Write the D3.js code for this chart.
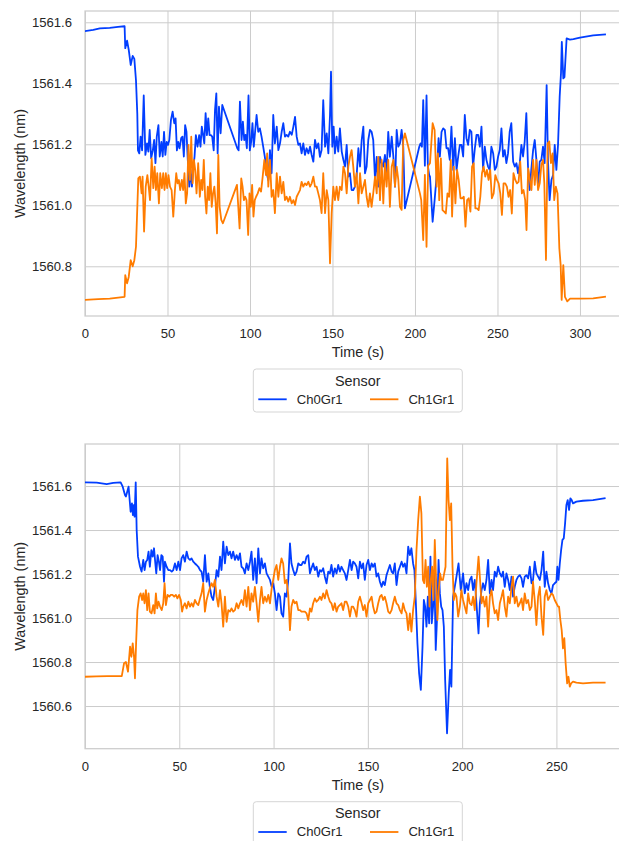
<!DOCTYPE html>
<html>
<head>
<meta charset="utf-8">
<script src="https://cdn.jsdelivr.net/npm/d3@7"></script>
<style>
  html, body { margin: 0; padding: 0; background: #ffffff; }
  svg { display: block; font-family: "Liberation Sans", Arial, sans-serif; }
</style>
</head>
<body>
<svg id="chart" width="619" height="841"></svg>
<script>
// ---------------- DATA ----------------
const seriesNames = ["Ch0Gr1", "Ch1Gr1"];
const legendTitle = "Sensor";
const xLabel = "Time (s)";
const yLabel = "Wavelength (nm)";

const xTicksTop = [0, 50, 100, 150, 200, 250, 300];
const yTicksTop = [1560.8, 1561.0, 1561.2, 1561.4, 1561.6];
const xTicksBottom = [0, 50, 100, 150, 200, 250];
const yTicksBottom = [1560.6, 1560.8, 1561.0, 1561.2, 1561.4, 1561.6];

// [time (s), wavelength (nm)]
const topCh0Gr1 = [
[0,1561.571],[5,1561.575],[9,1561.58],[15,1561.582],[20,1561.585],[24,1561.587],
[24.4,1561.515],[25.5,1561.54],[26.5,1561.51],[27.7,1561.46],[28.9,1561.49],[29.9,1561.48],[30.9,1561.41],[31.7,1561.30],[32.1,1561.18],[32.9,1561.17],[33.7,1561.225],[34.6,1561.18],[35.6,1561.36],[36.6,1561.165],[37.6,1561.203],[38.4,1561.176],[39.2,1561.247],[40.1,1561.154],[41.1,1561.18],[41.9,1561.214],[42.7,1561.138],[43.5,1561.225],[44.5,1561.263],[45.3,1561.16],[46.3,1561.208],[47.1,1561.16],[47.9,1561.241],[48.7,1561.165],[49.5,1561.208],[50.3,1561.198],[51.1,1561.214],[52.1,1561.28],[53.1,1561.307],[54.1,1561.269],[54.9,1561.285],[55.7,1561.18],[56.5,1561.208],[57.3,1561.187],[58.3,1561.22],[59.1,1561.225],[59.9,1561.16],[60.7,1561.263],[61.5,1561.241],[62.3,1561.149],[63.2,1561.061],[64.0,1561.116],[64.8,1561.061],[65.6,1561.121],[66.4,1561.16],[67.2,1561.23],[68.2,1561.192],[69.2,1561.23],[70.0,1561.192],[70.8,1561.258],[71.6,1561.23],[72.3,1561.203],[73.1,1561.302],[73.9,1561.23],[74.7,1561.285],[75.5,1561.23],[76.3,1561.23],[77.1,1561.225],[78.0,1561.18],[78.8,1561.312],[79.6,1561.367],[80.4,1561.17],[81.2,1561.323],[82.2,1561.236],[83.2,1561.329],
[92.3,1561.187],[93.1,1561.18],[93.9,1561.34],[94.9,1561.214],[95.7,1561.274],[96.5,1561.214],[97.3,1561.231],[98.1,1561.187],[99.1,1561.36],[99.9,1561.18],[100.7,1561.208],[101.5,1561.269],[102.3,1561.192],[103.1,1561.241],[104,1561.296],[105,1561.241],[106,1561.252],[107,1561.225],[108,1561.192],[109,1561.159],[110.1,1561.105],[111.1,1561.083],[112.1,1561.181],[113.1,1561.105],[114.1,1561.296],[115.1,1561.203],[116.2,1561.258],[117.2,1561.181],[118.2,1561.203],[119.2,1561.241],[120.2,1561.269],[121.2,1561.225],[122.2,1561.231],[123.2,1561.225],[124.2,1561.241],[125.3,1561.231],[126.3,1561.258],[127.3,1561.29],[128.3,1561.225],[129.3,1561.198],[130.3,1561.203],[131.3,1561.17],[132.3,1561.203],[133.3,1561.165],[134.3,1561.187],[135.4,1561.17],[136.4,1561.192],[137.4,1561.165],[138.4,1561.143],[139.4,1561.214],[140.4,1561.187],[141.4,1561.203],[142.4,1561.159],[143.4,1561.181],[144.4,1561.345],[145.5,1561.192],[146.5,1561.236],[147.5,1561.17],[148.5,1561.296],[149.1,1561.438],[149.9,1561.192],[150.7,1561.258],[151.5,1561.17],[152.5,1561.225],[153.5,1561.176],[154.5,1561.252],[155.6,1561.176],[156.6,1561.149],[157.6,1561.127],[158.6,1561.198],[159.6,1561.094],[160.6,1561.105],[161.6,1561.05],[162.6,1561.05],[163.6,1561.061],[164.6,1561.094],[165.7,1561.187],[166.7,1561.127],[167.7,1561.214],[168.7,1561.258],[169.7,1561.105],[170.7,1561.127],[171.7,1561.214],[172.7,1561.247],[173.7,1561.241],[174.7,1561.214],[175.8,1561.083],[176.8,1561.159],[177.8,1561.061],[178.8,1561.159],[179.8,1561.138],[180.8,1561.127],[181.8,1561.165],[182.8,1561.105],[183.8,1561.241],[184.8,1561.159],[185.9,1561.225],[186.9,1561.159],[187.9,1561.061],[188.9,1561.247],[189.9,1561.192],[190.9,1561.203],[191.9,1561.247],[192.9,1561.192],[193.9,1560.99],
[202.6,1561.192],[203.4,1561.203],[204.2,1561.192],[205,1561.345],[206,1561.13],[207,1561.36],[207.8,1561.13],[208.6,1561.10],[209.1,1561.094],[210.7,1560.946],[211.9,1561.017],[213.1,1561.094],[214.3,1561.22],[215.1,1561.16],[216.1,1561.241],[217.1,1561.252],[218.1,1561.247],[219.1,1561.187],[220.1,1561.187],[221.1,1561.149],[222.1,1561.258],[223.2,1561.116],[224.2,1561.22],[225.2,1561.116],[226.2,1561.16],[227.2,1561.198],[228.2,1561.198],[229.2,1561.16],[230.2,1561.296],[231.2,1561.22],[232.2,1561.198],[233.2,1561.247],[234.2,1561.241],[235.2,1561.127],[236.3,1561.187],[237.3,1561.231],[238.3,1561.231],[239.3,1561.192],[240.3,1561.258],[241.3,1561.116],[242.3,1561.192],[243.3,1561.149],[244.3,1561.127],[245.3,1561.116],[246.3,1561.192],[247.4,1561.17],[248.4,1561.116],[249.4,1561.127],[250.4,1561.16],[251.4,1561.181],[252.4,1561.252],[253.4,1561.16],[254.4,1561.181],[255.4,1561.138],[256.4,1561.17],[257.4,1561.241],[258.4,1561.269],[259.5,1561.143],[260.5,1561.127],[261.5,1561.138],[262.5,1561.105],[263.5,1561.138],[264.5,1561.198],[265.5,1561.16],[266.5,1561.209],[267.5,1561.302],[268.5,1561.127],[269.5,1561.05],[270.5,1561.116],[271.6,1561.181],[272.6,1561.214],[273.6,1561.149],[274.6,1561.061],[275.6,1561.143],[276.6,1561.149],[277.6,1561.192],[278.6,1561.138],[279.8,1561.394],[280.6,1561.149],[281.6,1561.017],[282.7,1561.083],[283.7,1561.099],[284.7,1561.198],[285.7,1561.116],[286.7,1561.198],[287.7,1561.356],[288.5,1561.433],[289.0,1561.536],[289.9,1561.416],[290.6,1561.42],[291.9,1561.547],[293.9,1561.543],[296,1561.545],[300,1561.55],[308,1561.557],[315.2,1561.56]
];

const topCh1Gr1 = [
[0,1560.69],[8,1560.692],[15,1560.694],[24,1560.70],[24.4,1560.771],[25.5,1560.744],[26.5,1560.765],[27.7,1560.82],[28.9,1560.80],[29.9,1560.82],[30.9,1560.864],[32.3,1561.088],[33.3,1561.094],[34.3,1561.039],[34.9,1561.094],[35.8,1560.914],[36.8,1561.061],[37.8,1561.099],[38.6,1561.061],[39.4,1561.017],[40.4,1561.154],[41.4,1561.056],[42.2,1561.127],[43.0,1561.05],[43.8,1561.105],[44.8,1561.006],[45.6,1561.105],[46.6,1561.056],[47.4,1561.105],[48.2,1561.05],[49.0,1561.105],[49.8,1561.056],[50.6,1561.099],[51.5,1561.061],[52.5,1561.05],[53.5,1560.963],[54.5,1561.05],[55.3,1561.105],[56.1,1561.072],[56.9,1561.083],[57.7,1561.05],[58.7,1561.083],[59.5,1561.05],[60.3,1561.105],[61.1,1561.006],[61.9,1561.039],[62.7,1561.198],[63.6,1561.083],[64.4,1561.225],[65.2,1561.072],[66.0,1561.149],[66.8,1561.116],[67.6,1561.039],[68.6,1561.138],[69.6,1561.028],[70.4,1561.083],[71.2,1561.05],[72.0,1561.149],[72.8,1561.028],[73.6,1560.973],[74.4,1561.061],[75.2,1561.017],[76.0,1561.105],[76.8,1560.995],[77.6,1561.039],[78.4,1561.061],[79.2,1561.006],[80.0,1560.908],[80.8,1561.165],[81.6,1560.995],[82.6,1560.952],[83.6,1560.941],
[92.1,1561.067],[92.9,1560.995],[93.7,1560.924],[94.7,1561.088],[95.5,1561.061],[96.3,1561.017],[97.1,1561.028],[97.9,1561.017],[98.9,1560.903],[99.7,1561.039],[100.5,1560.995],[101.3,1561.067],[102.1,1560.963],[102.9,1561.017],[103.7,1561.028],[104.7,1561.039],[105.7,1561.056],[106.7,1561.045],[107.7,1561.094],[108.7,1561.149],[109.7,1561.099],[110.4,1561.17],[111.1,1561.061],[112.1,1561.149],[113.1,1561.028],[114.1,1561.05],[115.1,1560.974],[116.2,1561.105],[117.2,1561.028],[118.2,1561.094],[119.2,1561.039],[120.2,1561.077],[121.2,1561.017],[122.2,1561.028],[123.2,1561.012],[124.2,1561.028],[125.3,1561.006],[126.3,1561.017],[127.3,1561.001],[128.3,1561.028],[129.3,1561.039],[130.3,1561.05],[131.3,1561.077],[132.3,1561.061],[133.3,1561.072],[134.3,1561.066],[135.4,1561.077],[136.4,1561.061],[137.4,1561.072],[138.4,1561.094],[139.4,1561.061],[140.4,1561.061],[141.4,1561.039],[142.4,1561.017],[143.4,1560.974],[144.4,1561.105],[145.5,1560.974],[146.5,1561.05],[147.5,1561.017],[148.5,1560.81],[149.5,1560.974],[150.5,1561.061],[151.5,1561.017],[152.5,1561.061],[153.5,1561.017],[154.5,1561.061],[155.6,1561.05],[156.6,1561.127],[157.6,1561.105],[158.6,1561.039],[159.6,1561.127],[160.6,1561.159],[161.6,1561.181],[162.6,1561.127],[163.6,1561.061],[164.6,1561.105],[165.7,1561.006],[166.7,1561.105],[167.7,1561.039],[168.7,1561.061],[169.7,1561.083],[170.7,1561.028],[171.7,1560.995],[172.7,1561.039],[173.7,1560.995],[174.7,1561.039],[175.8,1561.094],[176.8,1561.039],[177.8,1561.159],[178.8,1561.017],[179.8,1561.149],[180.8,1561.006],[181.8,1561.138],[182.8,1561.061],[183.8,1561.149],[184.8,1560.995],[185.9,1561.127],[186.9,1561.149],[187.9,1561.061],[188.9,1561.127],[189.9,1561.083],[190.9,1560.995],[191.9,1560.985],[192.9,1561.214],[193.9,1561.236],
[203,1561.039],[203.8,1561.017],[205,1560.886],[206,1561.10],[207,1560.864],[208,1561.13],[209.1,1561.138],[210.7,1561.269],[211.9,1561.247],[213.1,1561.061],[213.9,1561.17],[214.7,1561.017],[215.7,1561.154],[216.7,1560.984],[217.7,1560.979],[218.7,1560.973],[219.7,1561.039],[220.7,1561.028],[221.7,1561.149],[222.5,1560.963],[223.5,1561.127],[224.5,1561.006],[225.5,1561.116],[226.5,1561.083],[227.6,1561.023],[228.6,1561.023],[229.6,1561.028],[230.6,1560.93],[231.6,1561.017],[232.6,1561.023],[233.6,1560.979],[234.6,1561.127],[235.6,1561.138],[236.6,1560.99],[237.6,1560.99],[238.6,1560.984],[239.6,1561.028],[240.6,1561.105],[241.6,1561.127],[242.6,1561.094],[243.6,1561.116],[244.6,1561.083],[245.6,1561.116],[246.6,1561.023],[247.7,1561.039],[248.7,1561.099],[249.7,1561.083],[250.7,1561.072],[251.7,1561.039],[252.7,1560.968],[253.7,1561.072],[254.7,1561.072],[255.7,1561.061],[256.7,1561.028],[257.7,1561.05],[258.7,1560.973],[259.7,1561.105],[260.8,1561.083],[261.8,1561.072],[262.8,1561.077],[263.8,1561.143],[264.8,1561.039],[265.8,1561.05],[266.8,1561.017],[267.6,1560.919],[268.6,1561.121],[269.6,1561.083],[270.6,1561.05],[271.6,1561.149],[272.6,1561.067],[273.6,1561.149],[274.6,1561.05],[275.6,1561.072],[276.6,1561.132],[277.6,1561.149],[278.4,1561.072],[279.4,1560.821],[280.4,1561.203],[281.4,1561.209],[282.4,1561.138],[283.4,1561.17],[284.4,1561.017],[285.4,1561.061],[286.4,1561.039],[287.5,1560.859],[288.3,1560.804],[288.9,1560.69],[289.9,1560.804],[290.9,1560.70],[292.3,1560.685],[294,1560.694],[300,1560.694],[308,1560.695],[315.2,1560.70]
];

const bottomCh0Gr1 = [
[0,1561.617],[6.2,1561.615],[11.5,1561.609],[15,1561.614],[18.9,1561.617],[20,1561.597],[21.2,1561.559],[21.7,1561.552],[23.1,1561.597],[24.2,1561.483],[24.9,1561.521],[25.4,1561.468],[26,1561.514],[26.3,1561.461],[26.9,1561.617],[27.4,1561.40],[28.1,1561.279],[29.2,1561.233],[30.0,1561.211],[30.9,1561.264],[31.6,1561.218],[32.3,1561.256],[33.0,1561.264],[33.7,1561.302],[34.4,1561.233],[35.2,1561.309],[35.9,1561.279],[36.6,1561.317],[37.3,1561.248],[37.8,1561.203],[38.5,1561.286],[39.2,1561.256],[39.8,1561.218],[40.5,1561.286],[41.2,1561.279],[41.9,1561.165],[42.4,1561.256],[43.3,1561.233],[44.2,1561.218],[45.1,1561.218],[46.0,1561.211],[46.8,1561.218],[47.7,1561.248],[48.6,1561.218],[49.5,1561.256],[50.4,1561.218],[51.2,1561.271],[52.1,1561.286],[53.0,1561.256],[53.9,1561.302],[54.8,1561.271],[55.7,1561.264],[56.5,1561.271],[57.4,1561.256],[58.3,1561.248],[59.2,1561.241],[60.1,1561.233],[61.0,1561.218],[61.8,1561.211],[62.7,1561.165],[63.6,1561.286],
[64.5,1561.165],[65.4,1561.203],[66.2,1561.142],[67.1,1561.097],[68.0,1561.082],[68.9,1561.142],[69.8,1561.218],[70.7,1561.188],[71.6,1561.279],[72.4,1561.218],[73.3,1561.347],[74.2,1561.248],[75.1,1561.324],[76.0,1561.286],[76.9,1561.302],[77.7,1561.271],[78.6,1561.302],[79.5,1561.264],[80.4,1561.286],[81.3,1561.264],[82.2,1561.294],[83.0,1561.233],[83.9,1561.226],[84.8,1561.203],[85.7,1561.248],[86.6,1561.218],[87.5,1561.256],[88.3,1561.302],[89.2,1561.173],[90.1,1561.271],[91.0,1561.158],[91.9,1561.317],[92.8,1561.203],[93.6,1561.271],[94.5,1561.226],[95.4,1561.248],[96.3,1561.203],[97.2,1561.188],[98.1,1561.173],[99.0,1561.142],[99.8,1561.158],[100.7,1561.112],[101.6,1561.036],[102.5,1561.112],[103.4,1561.097],[104.2,1561.021],[105.1,1561.006],[106.0,1561.112],[106.9,1561.097],[107.8,1561.173],[108.7,1561.339],[109.5,1561.248],[110.4,1561.218],[111.3,1561.195],[112.2,1561.211],[113.1,1561.248],[114.0,1561.241],[114.8,1561.241],[115.7,1561.256],[116.6,1561.248],[117.5,1561.279],[118.4,1561.286],[119.3,1561.203],[120.1,1561.226],[121.0,1561.248],[121.9,1561.218],[122.8,1561.233],[123.7,1561.188],[124.6,1561.218],[125.4,1561.211],[126.3,1561.226],[127.2,1561.188],[128.1,1561.158],[129.0,1561.211],[129.9,1561.203],[130.7,1561.241],[131.6,1561.188],[132.5,1561.226],[133.4,1561.203],[134.3,1561.241],[135.2,1561.211],[136.0,1561.233],[136.9,1561.218],[137.8,1561.203],[138.7,1561.173],[139.6,1561.218],[140.5,1561.264],[141.4,1561.218],[142.2,1561.256],[143.1,1561.248],[144.0,1561.233],[144.9,1561.180],[145.8,1561.256],[146.7,1561.226],[147.5,1561.248],[148.4,1561.173],[149.3,1561.241],[150.2,1561.264],[151.1,1561.218],[152.0,1561.248],[152.8,1561.233],[153.7,1561.248],[154.6,1561.188],[155.5,1561.203],[156.4,1561.165],[157.3,1561.142],[158.1,1561.165],[159.0,1561.150],[159.9,1561.195],[160.8,1561.218],[161.7,1561.241],[162.6,1561.211],[163.4,1561.203],[164.3,1561.248],[165.2,1561.150],[166.1,1561.211],[167.0,1561.233],[167.9,1561.256],[168.7,1561.233],[169.6,1561.248],[170.5,1561.203],[171.4,1561.324],
[172.3,1561.286],[173.1,1561.317],[174.0,1561.248],[174.7,1561.218],[175.4,1561.082],[176.3,1560.885],[177.2,1560.748],[178.1,1560.673],[179.0,1560.870],[179.7,1561.082],[180.4,1561.052],[181.1,1560.961],[181.8,1561.097],[182.5,1560.976],[183.2,1561.279],[183.9,1560.976],[184.6,1561.052],[185.3,1561.203],[186.0,1560.855],[186.8,1561.021],[187.5,1561.264],[188.2,1561.112],[188.9,1561.052],[189.6,1561.036],[190.3,1560.961],[191.0,1560.718],[192.0,1560.476],[192.9,1560.658],[193.6,1560.764],[194.3,1560.688],[195.2,1561.097],[196.1,1561.142],[197.0,1561.188],[198.1,1561.248],[199.3,1561.127],[200.5,1561.203],[201.4,1561.112],[202.3,1561.158],[203.2,1561.127],[204.1,1561.173],[205.0,1561.188],[205.8,1561.127],[206.7,1561.173],[207.6,1561.067],[208.7,1560.930],[209.4,1561.067],[210.3,1561.127],[211.1,1561.158],[212.0,1561.127],[212.9,1561.173],[213.8,1561.264],[214.7,1561.112],[215.6,1561.173],[216.4,1561.127],[217.3,1561.211],[218.2,1561.188],[219.1,1561.233],[220.0,1561.203],[220.9,1561.188],[221.7,1561.211],[222.6,1561.142],[223.5,1561.203],[224.4,1561.173],[225.3,1561.127],[226.2,1561.188],[227.0,1561.097],[227.9,1561.142],[228.8,1561.173],[229.7,1561.188],[230.6,1561.195],[231.5,1561.180],[232.3,1561.142],[233.2,1561.188],[234.1,1561.195],[235.0,1561.180],[235.9,1561.233],[236.8,1561.158],[237.6,1561.173],[238.5,1561.256],[239.4,1561.203],[240.3,1561.188],[241.2,1561.173],[242.1,1561.218],[243.0,1561.302],[243.8,1561.142],[244.7,1561.211],[245.6,1561.158],[246.5,1561.127],[247.4,1561.112],[248.2,1561.150],[249.1,1561.158],[250.0,1561.165],[250.5,1561.233],[251.1,1561.173],[251.8,1561.248],[252.5,1561.309],[253.2,1561.355],[253.9,1561.362],[254.6,1561.430],[255.3,1561.514],[256.0,1561.536],[256.7,1561.491],[257.4,1561.544],[258.1,1561.536],[258.8,1561.521],[260.6,1561.529],[264.1,1561.533],[269.4,1561.536],[275.6,1561.544]
];

const bottomCh1Gr1 = [
[0,1560.733],[6,1560.735],[12,1560.736],[19.5,1560.736],[20.7,1560.794],[21.7,1560.80],[22.8,1560.756],[23.9,1560.870],[24.6,1560.824],[25.3,1560.885],[26.0,1560.824],[26.5,1560.726],[27.1,1560.885],[27.8,1561.036],[28.7,1561.097],[29.5,1561.112],[30.3,1561.082],[30.9,1561.112],[31.6,1561.067],[32.3,1561.127],[33.0,1561.036],[33.7,1561.112],[34.4,1561.029],[35.3,1561.021],[36.2,1561.059],[36.9,1561.021],[37.6,1561.112],[38.3,1561.044],[39.0,1561.074],[39.8,1561.052],[40.7,1561.036],[41.5,1561.067],[42.2,1561.158],[42.9,1561.059],[43.8,1561.105],[44.7,1561.097],[45.5,1561.105],[46.4,1561.105],[47.3,1561.097],[48.2,1561.105],[49.0,1561.089],[49.9,1561.105],[50.8,1561.082],[51.5,1561.029],[52.1,1561.052],[53.0,1561.067],[53.9,1561.044],[54.8,1561.074],[55.7,1561.052],[56.5,1561.067],[57.4,1561.052],[58.3,1561.082],[59.2,1561.067],[60.1,1561.059],[61.0,1561.089],[61.8,1561.112],[62.7,1561.158],[63.6,1561.029],
[64.5,1561.082],[65.4,1561.112],[66.2,1561.135],[67.1,1561.158],[68.0,1561.142],[68.9,1561.173],[69.8,1561.097],[70.7,1561.052],[71.6,1561.127],[72.4,1561.067],[73.3,1560.961],[74.2,1561.097],[75.1,1560.983],[76.0,1561.036],[76.9,1561.029],[77.7,1561.044],[78.6,1561.029],[79.5,1561.036],[80.4,1561.067],[81.3,1561.044],[82.2,1561.067],[83.0,1561.082],[83.9,1561.059],[84.8,1561.127],[85.7,1561.052],[86.6,1561.142],[87.5,1561.036],[88.3,1561.112],[89.2,1561.074],[90.1,1561.142],[91.0,1561.067],[91.9,1560.983],[92.8,1561.082],[93.6,1561.142],[94.5,1561.067],[95.4,1561.097],[96.3,1561.074],[97.2,1561.105],[98.1,1561.067],[99.0,1561.135],[99.8,1561.173],[100.7,1561.218],[101.6,1561.241],[102.5,1561.173],[103.4,1561.233],[104.2,1561.271],[105.1,1561.248],[106.0,1561.158],[106.9,1561.173],[107.8,1561.105],[108.7,1560.945],[109.5,1561.052],[110.4,1561.082],[111.3,1561.067],[112.2,1561.074],[113.1,1561.036],[114.0,1561.036],[114.8,1561.029],[115.7,1561.029],[116.6,1561.029],[117.5,1561.021],[118.4,1560.991],[119.3,1561.044],[120.1,1561.029],[121.0,1561.067],[121.9,1561.089],[122.8,1561.074],[123.7,1561.082],[124.6,1561.097],[125.4,1561.082],[126.3,1561.112],[127.2,1561.089],[128.1,1561.127],[129.0,1561.097],[129.9,1561.074],[130.7,1561.067],[131.6,1561.036],[132.5,1561.067],[133.4,1561.029],[134.3,1561.052],[135.2,1561.059],[136.0,1561.067],[136.9,1561.036],[137.8,1561.074],[138.7,1561.074],[139.6,1561.052],[140.5,1561.006],[141.4,1561.052],[142.2,1561.052],[143.1,1561.036],[144.0,1561.006],[144.9,1561.074],[145.8,1561.097],[146.7,1561.067],[147.5,1561.036],[148.4,1561.059],[149.3,1561.006],[150.2,1561.067],[151.1,1561.082],[152.0,1561.097],[152.8,1561.052],[153.7,1561.021],[154.6,1561.029],[155.5,1561.067],[156.4,1561.097],[157.3,1561.105],[158.1,1561.082],[159.0,1561.097],[159.9,1561.067],[160.8,1561.029],[161.7,1561.021],[162.6,1561.036],[163.4,1561.067],[164.3,1561.097],[165.2,1561.067],[166.1,1561.059],[167.0,1561.036],[167.9,1561.021],[168.7,1561.067],[169.6,1561.036],[170.5,1561.021],[171.4,1560.945],
[172.3,1561.021],[173.1,1560.938],[174.0,1561.036],[174.9,1561.097],[175.8,1561.309],[176.7,1561.445],[177.6,1561.552],[178.4,1561.476],[179.2,1561.173],[179.9,1561.158],[180.6,1561.264],[181.3,1561.142],[182.0,1561.233],[182.7,1561.052],[183.4,1561.173],[184.1,1561.233],[184.8,1561.082],[185.5,1561.355],[186.2,1561.173],[186.9,1560.991],[187.6,1561.127],[188.3,1561.203],[189.0,1561.173],[189.8,1561.173],[190.5,1561.203],[191.2,1561.233],[192.1,1561.726],[192.8,1561.536],[193.5,1561.445],[194.2,1561.521],[194.9,1561.233],[195.6,1561.082],[196.3,1561.112],[197.0,1561.097],[197.9,1561.006],[198.8,1561.052],[199.6,1561.127],[200.5,1561.082],[201.4,1561.052],[202.3,1561.021],[203.2,1561.112],[204.1,1561.067],[205.0,1561.059],[205.8,1561.097],[206.7,1561.036],[207.6,1561.158],[208.7,1561.279],[209.4,1561.188],[210.3,1561.067],[211.1,1561.097],[212.0,1561.052],[212.9,1561.097],[213.8,1560.961],[214.7,1561.097],[215.6,1561.127],[216.4,1561.067],[217.3,1561.021],[218.2,1561.036],[219.1,1560.991],[220.0,1561.067],[220.9,1561.097],[221.7,1561.127],[222.6,1561.052],[223.5,1561.006],[224.4,1561.097],[225.3,1561.067],[226.2,1561.142],[227.0,1561.188],[227.9,1561.067],[228.8,1561.097],[229.7,1561.052],[230.6,1561.067],[231.5,1561.089],[232.3,1561.036],[233.2,1561.112],[234.1,1561.067],[235.0,1561.082],[235.9,1561.036],[236.8,1561.052],[237.6,1561.165],[238.5,1561.082],[239.4,1560.968],[240.3,1561.097],[241.2,1561.142],[242.1,1561.006],[243.0,1560.923],[243.8,1561.097],[244.7,1561.127],[245.6,1561.082],[246.5,1561.097],[247.4,1561.112],[248.2,1561.105],[249.1,1561.082],[250.0,1561.067],[250.9,1561.052],[251.4,1561.052],[252.1,1560.991],[252.8,1560.945],[253.5,1560.862],[254.2,1560.908],[254.9,1560.794],[255.7,1560.703],[256.4,1560.733],[257.1,1560.688],[257.8,1560.703],[258.8,1560.711],[260.6,1560.706],[264.1,1560.703],[269.4,1560.706],[275.6,1560.706]
];

// ---------------- DRAWING ----------------
const colors = ["#023eff", "#ff7c00"];
const textColor = "#262626";
const gridColor = "#cccccc";

const panels = [
  { top: 11, bottom: 316, xDomain: [0, 330.75], yDomain: [1560.637, 1561.637],
    xTicks: xTicksTop, yTicks: yTicksTop, series: [topCh0Gr1, topCh1Gr1], legendTop: 369 },
  { top: 444, bottom: 748.7, xDomain: [0, 289.4], yDomain: [1560.406, 1561.791],
    xTicks: xTicksBottom, yTicks: yTicksBottom, series: [bottomCh0Gr1, bottomCh1Gr1], legendTop: 801.7 }
];

const svg = d3.select("#chart");
const left = 85, right = 630.7;

panels.forEach((p, pi) => {
  const x = d3.scaleLinear().domain(p.xDomain).range([left, right]);
  const y = d3.scaleLinear().domain(p.yDomain).range([p.bottom, p.top]);
  const g = svg.append("g");
  const h = p.bottom - p.top, w = right - left;

  const ya = g.append("g").attr("transform", `translate(${left},0)`)
    .call(d3.axisLeft(y).tickValues(p.yTicks).tickFormat(d3.format(".1f"))
      .tickSizeInner(-w).tickSizeOuter(0).tickPadding(13));
  const xa = g.append("g").attr("transform", `translate(0,${p.bottom})`)
    .call(d3.axisBottom(x).tickValues(p.xTicks).tickFormat(d3.format("d"))
      .tickSizeInner(-h).tickSizeOuter(0).tickPadding(12.8));
  [ya, xa].forEach(a => {
    a.select(".domain").remove();
    a.selectAll(".tick line").attr("stroke", gridColor).attr("stroke-width", 1);
    a.selectAll(".tick text").attr("fill", textColor).attr("font-size", 13.1)
      .attr("font-family", "'Liberation Sans', Arial, sans-serif");
  });

  g.append("rect").attr("x", left).attr("y", p.top).attr("width", w).attr("height", h)
    .attr("fill", "none").attr("stroke", gridColor).attr("stroke-width", 1.25);

  const clipId = "clip" + pi;
  g.append("clipPath").attr("id", clipId).append("rect")
    .attr("x", left).attr("y", p.top).attr("width", w).attr("height", h);
  const line = d3.line().x(d => x(d[0])).y(d => y(d[1]));
  p.series.forEach((s, si) => {
    g.append("path").datum(s).attr("d", line)
      .attr("clip-path", `url(#${clipId})`)
      .attr("fill", "none").attr("stroke", colors[si]).attr("stroke-width", 1.8)
      .attr("stroke-linejoin", "round").attr("stroke-linecap", "square");
  });

  const cx = (left + right) / 2;
  g.append("text").attr("x", cx).attr("y", p.bottom + 41).attr("text-anchor", "middle")
    .attr("fill", textColor).attr("font-size", 14.4).text(xLabel);
  g.append("text").attr("transform", `translate(25,${(p.top + p.bottom) / 2}) rotate(-90)`)
    .attr("text-anchor", "middle").attr("fill", textColor).attr("font-size", 14.4).text(yLabel);

  const lx = 253.3, lw = 209, lt = p.legendTop, lh = 43;
  const lg = g.append("g");
  lg.append("rect").attr("x", lx).attr("y", lt).attr("width", lw).attr("height", lh)
    .attr("rx", 3).attr("fill", "#ffffff").attr("fill-opacity", 0.8)
    .attr("stroke", "#d5d5d5").attr("stroke-width", 1);
  lg.append("text").attr("x", lx + lw / 2).attr("y", lt + 16.5).attr("text-anchor", "middle")
    .attr("fill", textColor).attr("font-size", 14.4).text(legendTitle);
  const entryX = [258.3, 370];
  seriesNames.forEach((name, i) => {
    lg.append("line").attr("x1", entryX[i]).attr("x2", entryX[i] + 28.4)
      .attr("y1", lt + 30.3).attr("y2", lt + 30.3)
      .attr("stroke", colors[i]).attr("stroke-width", 1.8);
    lg.append("text").attr("x", entryX[i] + 38.4).attr("y", lt + 34.6)
      .attr("fill", textColor).attr("font-size", 13.1).text(name);
  });
});
</script>
</body>
</html>
